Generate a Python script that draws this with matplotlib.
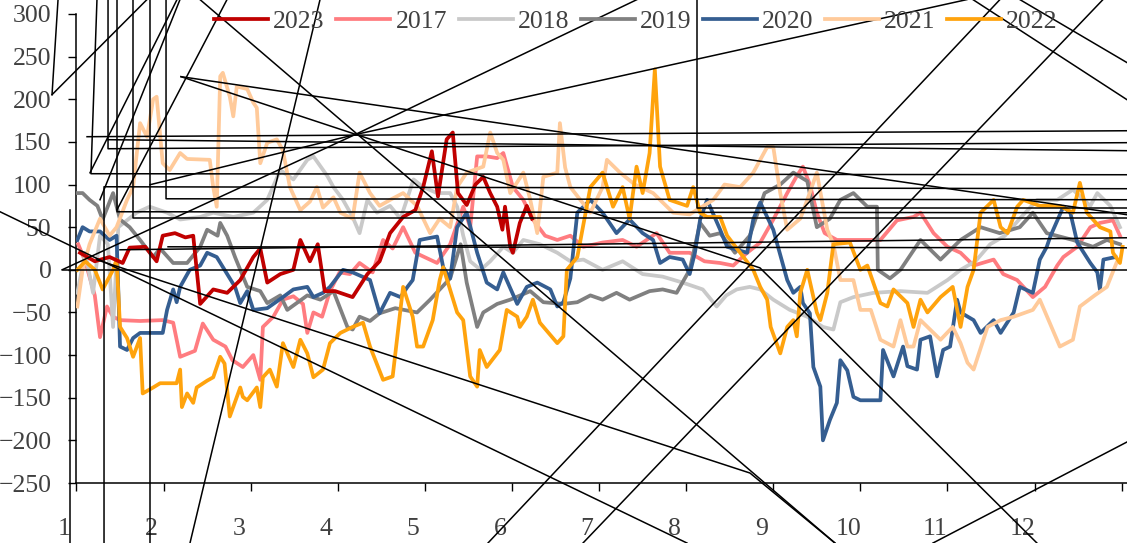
import matplotlib
matplotlib.use("Agg")
import matplotlib.pyplot as plt
import matplotlib.transforms as mtransforms

plt.rcParams['font.family'] = ['Liberation Serif', 'DejaVu Serif']

# x positions are in months (1 = start of Jan, 13 = end of Dec)
x2023 = [1.04, 1.21, 1.38, 1.53, 1.61, 1.79, 1.92, 1.99, 2.13, 2.25, 2.34, 2.42, 2.57, 2.73, 2.88,
         3.03, 3.11, 3.19, 3.34, 3.49, 3.57, 3.68, 3.77, 3.85, 3.97, 4.17, 4.34, 4.48, 4.60, 4.75,
         4.89, 4.98, 5.08, 5.15, 5.25, 5.32, 5.38, 5.48, 5.58, 5.67, 5.75, 5.83, 5.89, 5.92, 5.98,
         6.01, 6.09, 6.17, 6.23]
y2023 = [20, 10, 15, 8, 26, 27, 10, 40, 43, 38, 40, -40, -23, -27, -12,
         15, 25, -15, -5, 0, 35, 10, 30, -25, -25, -32, -5, 10, 43, 62,
         70, 97, 139, 86, 153, 161, 90, 76, 100, 109, 90, 74, 47, 74, 27,
         20, 55, 75, 60]

x2017 = [1.02, 1.10, 1.21, 1.27, 1.35, 1.42, 1.50, 1.73, 1.99, 2.11, 2.19, 2.36, 2.45, 2.57, 2.71,
         2.79, 2.91, 3.03, 3.11, 3.14, 3.26, 3.37, 3.49, 3.60, 3.65, 3.72, 3.82, 3.91, 4.02, 4.14,
         4.25, 4.40, 4.52, 4.63, 4.75, 4.89, 5.14, 5.29, 5.44, 5.52, 5.60, 5.71, 5.83, 5.90, 6.01,
         6.13, 6.24, 6.38, 6.52, 6.67, 6.82, 7.04, 7.27, 7.43, 7.66, 7.81, 8.04, 8.21, 8.39, 8.54,
         8.70, 8.85, 9.00, 9.16, 9.27, 9.34, 9.42, 9.50, 9.59, 9.73, 10.00, 10.23, 10.42, 10.61, 10.69,
         10.84, 11.00, 11.15, 11.30, 11.53, 11.64, 11.80, 11.98, 12.12, 12.26, 12.33, 12.49, 12.64, 12.75, 12.90,
         12.98]
y2017 = [30, 10, -30, -79, -43, -55, -59, -60, -59, -62, -102, -95, -63, -82, -90,
         -106, -114, -100, -129, -67, -55, -35, -31, -40, -74, -50, -55, -25, -3, -5,
         8, -3, 35, 25, 50, 20, 8, 30, 74, 50, 133, 133, 131, 137, 97,
         82, 59, 40, 35, 40, 27, 32, 35, 27, 43, 20, 20, 10, 8, 5,
         20, 32, 59, 90, 110, 121, 100, 67, 43, 35, 35, 35, 58, 62, 67,
         43, 27, 20, 5, 12, -5, -12, -32, -20, 5, 15, 27, 50, 55, 58,
         40]

x2018 = [1.01, 1.10, 1.19, 1.27, 1.36, 1.42, 1.48, 1.69, 1.84, 2.04, 2.19, 2.42, 2.57, 2.80, 3.03,
         3.19, 3.34, 3.49, 3.65, 3.72, 3.88, 3.95, 4.06, 4.17, 4.25, 4.34, 4.45, 4.60, 4.72, 4.87,
         4.98, 5.14, 5.29, 5.37, 5.44, 5.52, 5.64, 5.75, 5.90, 6.01, 6.13, 6.32, 6.52, 6.67, 6.82,
         7.04, 7.27, 7.50, 7.73, 7.96, 8.19, 8.35, 8.46, 8.58, 8.73, 8.85, 9.00, 9.19, 9.39, 9.57,
         9.69, 9.77, 9.92, 10.15, 10.46, 10.77, 11.00, 11.15, 11.32, 11.49, 11.66, 11.83, 12.03, 12.26, 12.44,
         12.64, 12.72, 12.87, 12.98]
y2018 = [-27, 20, -27, 40, 30, -67, 50, 67, 74, 67, 59, 62, 67, 62, 67,
         82, 117, 106, 129, 133, 110, 97, 82, 62, 43, 82, 67, 75, 60, 106,
         97, 90, 90, 74, 40, 10, 0, 10, 27, 20, 35, 30, 20, 10, 12,
         0, 10, -5, -8, -15, -23, -43, -30, -23, -20, -23, -35, -47, -55, -67,
         -70, -38, -32, -27, -25, -27, -12, 0, 10, 30, 40, 60, 82, 82, 94,
         75, 90, 75, 50]

x2019 = [1.01, 1.07, 1.15, 1.24, 1.30, 1.42, 1.50, 1.61, 1.73, 1.88, 1.96, 2.11, 2.27, 2.42, 2.50,
         2.62, 2.65, 2.73, 2.82, 2.96, 3.11, 3.19, 3.34, 3.42, 3.65, 3.80, 3.95, 4.11, 4.17, 4.25,
         4.37, 4.48, 4.66, 4.91, 5.06, 5.29, 5.41, 5.48, 5.60, 5.67, 5.83, 5.98, 6.21, 6.36, 6.59,
         6.75, 6.90, 7.04, 7.20, 7.35, 7.58, 7.73, 7.89, 8.04, 8.16, 8.27, 8.39, 8.56, 8.73, 8.90,
         9.08, 9.23, 9.39, 9.50, 9.65, 9.77, 9.92, 10.08, 10.19, 10.20, 10.34, 10.46, 10.69, 10.92, 11.15,
         11.38, 11.60, 11.83, 11.98, 12.14, 12.44, 12.67, 12.83, 12.98]
y2019 = [90, 90, 82, 75, 59, 90, 59, 50, 35, 15, 25, 8, 8, 27, 47,
         40, 55, 40, 15, -20, -25, -39, -30, -47, -30, -35, -25, -67, -70, -55,
         -60, -51, -45, -50, -35, -10, 30, -15, -67, -50, -40, -35, -25, -38, -40,
         -38, -30, -35, -27, -35, -25, -23, -27, 0, 55, 40, 43, 20, 40, 90,
         100, 114, 104, 50, 60, 82, 90, 74, 74, 0, -10, 0, 35, 12, 35,
         50, 43, 50, 67, 43, 35, 27, 35, 30]

x2020 = [1.01, 1.07, 1.15, 1.27, 1.38, 1.46, 1.50, 1.58, 1.65, 1.73, 1.99, 2.04, 2.11, 2.15, 2.19,
         2.30, 2.42, 2.50, 2.61, 2.70, 2.82, 2.88, 2.96, 3.03, 3.19, 3.37, 3.49, 3.65, 3.72, 3.83,
         3.91, 4.06, 4.17, 4.37, 4.48, 4.60, 4.72, 4.80, 4.86, 4.94, 5.14, 5.21, 5.29, 5.37, 5.48,
         5.60, 5.71, 5.83, 5.90, 6.06, 6.17, 6.29, 6.44, 6.52, 6.59, 6.67, 6.75, 6.90, 7.04, 7.20,
         7.35, 7.50, 7.62, 7.70, 7.81, 7.96, 8.04, 8.10, 8.16, 8.24, 8.39, 8.47, 8.70, 8.77, 8.85,
         9.00, 9.16, 9.23, 9.31, 9.34, 9.42, 9.46, 9.54, 9.57, 9.65, 9.73, 9.77, 9.85, 9.92, 10.00,
         10.23, 10.26, 10.38, 10.49, 10.54, 10.65, 10.69, 10.80, 10.88, 10.95, 11.03, 11.11, 11.15, 11.30, 11.38,
         11.53, 11.61, 11.76, 11.83, 11.98, 12.06, 12.14, 12.18, 12.33, 12.41, 12.49, 12.64, 12.72, 12.75, 12.79,
         12.93]
y2020 = [35, 50, 45, 45, 35, 40, -90, -94, -80, -74, -74, -47, -23, -38, -20,
         0, 5, 20, 15, 0, -20, -39, -25, -47, -45, -32, -23, -20, -32, -27,
         -20, 0, -3, -12, -51, -27, -32, -20, -12, 35, 39, 3, -10, 50, 67,
         20, -15, -23, -3, -40, -20, -15, -23, -43, -38, -10, 67, 82, 67, 43,
         59, 43, 35, 8, 15, 12, -5, 20, 59, 82, 47, 27, 20, 59, 79,
         47, -12, -27, -20, -39, -51, -114, -137, -200, -176, -156, -106, -118, -149, -153,
         -153, -94, -125, -90, -113, -117, -82, -78, -125, -94, -90, -35, -50, -59, -74,
         -59, -74, -50, -20, -27, 12, 27, 39, 74, 67, 32, 8, -3, -23, 12,
         15]

x2021 = [1.01, 1.07, 1.15, 1.27, 1.38, 1.46, 1.58, 1.65, 1.73, 1.81, 1.88, 1.92, 1.99, 2.07, 2.19,
         2.27, 2.53, 2.57, 2.61, 2.65, 2.68, 2.76, 2.80, 2.84, 2.96, 3.03, 3.07, 3.11, 3.19, 3.30,
         3.37, 3.45, 3.57, 3.68, 3.76, 3.83, 3.95, 4.03, 4.17, 4.25, 4.37, 4.48, 4.60, 4.75, 4.91,
         5.06, 5.17, 5.29, 5.37, 5.48, 5.67, 5.75, 5.83, 5.90, 5.98, 6.13, 6.21, 6.29, 6.36, 6.52,
         6.55, 6.61, 6.67, 6.90, 7.04, 7.09, 7.24, 7.41, 7.62, 7.85, 8.04, 8.31, 8.44, 8.62, 8.77,
         8.93, 9.00, 9.08, 9.16, 9.31, 9.39, 9.50, 9.62, 9.69, 9.77, 9.92, 10.00, 10.12, 10.23, 10.38,
         10.46, 10.54, 10.61, 10.69, 10.77, 10.92, 11.06, 11.15, 11.23, 11.30, 11.46, 11.61, 11.76, 11.98, 12.06,
         12.29, 12.44, 12.52, 12.69, 12.83, 12.94]
y2021 = [-43, 0, 30, 60, 40, 50, 82, 97, 172, 156, 200, 203, 125, 117, 137,
         130, 129, 97, 74, 227, 231, 203, 180, 215, 212, 196, 190, 125, 149, 153,
         140, 97, 70, 80, 97, 73, 85, 67, 60, 114, 90, 75, 82, 90, 75,
         43, 60, 50, 97, 114, 121, 161, 137, 129, 90, 114, 82, 43, 109, 114,
         172, 120, 97, 67, 97, 129, 114, 100, 90, 67, 65, 82, 100, 97, 114,
         144, 144, 90, 47, 60, 82, 114, 47, 30, -12, -12, -47, -47, -82, -90,
         -59, -90, -90, -59, -67, -82, -67, -86, -109, -117, -67, -59, -55, -47, -35,
         -90, -82, -43, -30, -20, 8]

x2022 = [1.01, 1.10, 1.21, 1.30, 1.42, 1.46, 1.50, 1.58, 1.65, 1.73, 1.76, 1.88, 1.96, 2.15, 2.19,
         2.21, 2.27, 2.34, 2.38, 2.50, 2.57, 2.65, 2.70, 2.76, 2.88, 2.91, 2.96, 3.07, 3.11, 3.14,
         3.22, 3.30, 3.37, 3.49, 3.57, 3.65, 3.72, 3.83, 3.91, 4.03, 4.17, 4.29, 4.37, 4.52, 4.63,
         4.75, 4.86, 4.91, 4.98, 5.09, 5.17, 5.21, 5.37, 5.44, 5.52, 5.60, 5.63, 5.71, 5.86, 5.94,
         6.06, 6.09, 6.17, 6.24, 6.32, 6.52, 6.59, 6.63, 6.75, 6.90, 7.04, 7.16, 7.27, 7.35, 7.43,
         7.50, 7.58, 7.61, 7.64, 7.70, 7.81, 8.01, 8.08, 8.16, 8.24, 8.39, 8.47, 8.62, 8.77, 8.85,
         8.93, 8.97, 9.08, 9.16, 9.23, 9.27, 9.31, 9.39, 9.50, 9.54, 9.62, 9.69, 9.88, 10.00, 10.08,
         10.23, 10.31, 10.38, 10.54, 10.61, 10.69, 10.77, 10.92, 11.06, 11.15, 11.23, 11.30, 11.38, 11.53, 11.61,
         11.69, 11.80, 11.87, 12.06, 12.29, 12.44, 12.52, 12.60, 12.75, 12.87, 12.90, 12.98, 13.01]
y2022 = [0, 10, 0, -23, 0, 12, -67, -80, -102, -80, -145, -138, -133, -133, -117,
         -161, -145, -156, -138, -130, -126, -102, -110, -172, -138, -149, -153, -138, -161, -126,
         -117, -137, -86, -114, -82, -98, -126, -117, -86, -74, -67, -62, -90, -129, -125,
         -20, -55, -90, -90, -59, -12, 3, -50, -59, -125, -137, -94, -114, -94, -47,
         -55, -67, -55, -35, -62, -86, -78, 0, 15, 97, 114, 74, 97, 60, 121,
         90, 137, 185, 235, 121, 82, 75, 97, 67, 62, 62, 40, 20, 0, -20,
         -35, -67, -98, -67, -59, -78, -27, 0, -50, -59, -27, 30, 32, 0, 5,
         -39, -43, -23, -39, -67, -35, -50, -32, -20, -67, -20, 0, 67, 82, 50,
         43, 74, 82, 75, 75, 67, 102, 67, 50, 45, 20, 8, 27]

# stray black connector lines of the original chart, as (month, value) vertices
stray_lines = [
    [(0.845, 0), (13.061, 0)],
    [(0.122, 68.1), (8.009, -320.4)],
    [(1.235, 11.7), (8.732, -238.3), (9.708, -320.4)],
    [(2.418, 316.9), (9.708, -320.4)],
    [(5.724, -320.4), (11.602, 316.9)],
    [(6.815, -320.4), (12.785, 316.9)],
    [(10.833, -320.4), (13.061, -201.9)],
    [(2.200, 226.5), (8.847, 2.3), (12.027, -320.4)],
    [(2.200, 226.5), (13.061, 64.6)],
    [(4.197, 158.5), (7.435, 316.9)],
    [(4.197, 158.5), (11.223, 316.9)],
    [(11.292, 316.9), (13.061, 199.5)],
    [(11.831, 316.9), (13.061, 243.0)],
    [(2.303, -320.4), (3.796, 316.9)],
    [(0.719, 205.4), (0.788, 316.9)],
    [(0.719, 205.4), (1.809, 316.9)],
    [(1.155, 113.8), (2.154, 316.9)],
    [(1.270, 82.2), (2.188, 316.9)],
    [(1.465, 70.4), (2.728, 316.9)],
    [(1.362, 316.9), (1.362, 142.0), (13.061, 149.1)],
    [(2.028, 316.9), (2.028, 83.3), (13.061, 82.2)],
    [(8.123, 316.9), (8.123, 72.8), (13.061, 72.8)],
    [(1.465, 316.9), (1.465, 68.1), (13.061, 66.9)],
    [(1.649, 316.9), (1.649, 61.0), (13.061, 61.0)],
    [(1.235, 316.9), (1.166, 112.7), (13.061, 111.5)],
    [(1.844, 316.9), (1.844, -320.4)],
    [(13.061, 95.1), (1.316, 97.4), (1.316, -320.4)],
    [(1.121, 156.1), (13.061, 163.1)],
    [(2.051, 27.0), (13.061, 25.8)],
    [(0.925, 70.4), (0.925, -320.4)],
    [(1.844, 99.8), (4.197, 158.5)],
    [(1.362, 152.6), (13.061, 139.7)],
    [(1.499, 23.5), (13.061, 37.6)],
    [(0.834, 0), (4.197, 158.5)],
]

series = [
    ('2017', x2017, y2017, '#FF7C80'),
    ('2018', x2018, y2018, '#C9C9C9'),
    ('2019', x2019, y2019, '#808080'),
    ('2020', x2020, y2020, '#355E91'),
    ('2021', x2021, y2021, '#FFCA9A'),
    ('2022', x2022, y2022, '#FFA30D'),
    ('2023', x2023, y2023, '#C00000'),
]
legend_order = ['2023', '2017', '2018', '2019', '2020', '2021', '2022']
month_labels = ['1', '2', '3', '4', '5', '6', '7', '8', '9', '10', '11', '12', '']

W, H = 1127, 543
fig = plt.figure(figsize=(W / 100, H / 100), dpi=100)
ax = fig.add_axes([76.5 / W, 60 / H, 1 - 76.5 / W, 469 / H])

handles = {}
for name, xs, ys, col in series:
    ln, = ax.plot(xs, ys, color=col, lw=2.7, solid_joinstyle='round', zorder=3)
    handles[name] = ln

for pts in stray_lines:
    xs = [p[0] for p in pts]
    ys = [p[1] for p in pts]
    ax.plot(xs, ys, color='black', lw=1.1, zorder=5, clip_on=False)

ax.set_xlim(1, 13.061)
ax.set_ylim(-250, 300)
ax.set_yticks(range(-250, 301, 50))
ax.set_xticks(range(1, 14))
ax.set_xticklabels(month_labels)

txt = '#404040'
ax.tick_params(axis='y', direction='out', length=6, width=1, pad=12,
               labelsize=18.5, labelcolor=txt, color='black')
ax.tick_params(axis='x', direction='out', length=6, width=1, pad=19,
               labelsize=18.5, labelcolor=txt, color='black')
shift = mtransforms.ScaledTranslation(-12 / 100, 0, fig.dpi_scale_trans)
for lab in ax.get_xticklabels():
    lab.set_transform(lab.get_transform() + shift)

for side in ['top', 'right']:
    ax.spines[side].set_visible(False)
for side in ['left', 'bottom']:
    ax.spines[side].set_color('black')
    ax.spines[side].set_linewidth(1.1)

fig.legend([handles[k] for k in legend_order], legend_order,
           loc='center', bbox_to_anchor=(636 / W, 1 - 22 / H), ncol=7,
           frameon=False, fontsize=18.5, labelcolor=txt, handlelength=2.1,
           handletextpad=0.2, columnspacing=0.45, borderpad=0, borderaxespad=0)

fig.savefig('out.png', dpi=100)
